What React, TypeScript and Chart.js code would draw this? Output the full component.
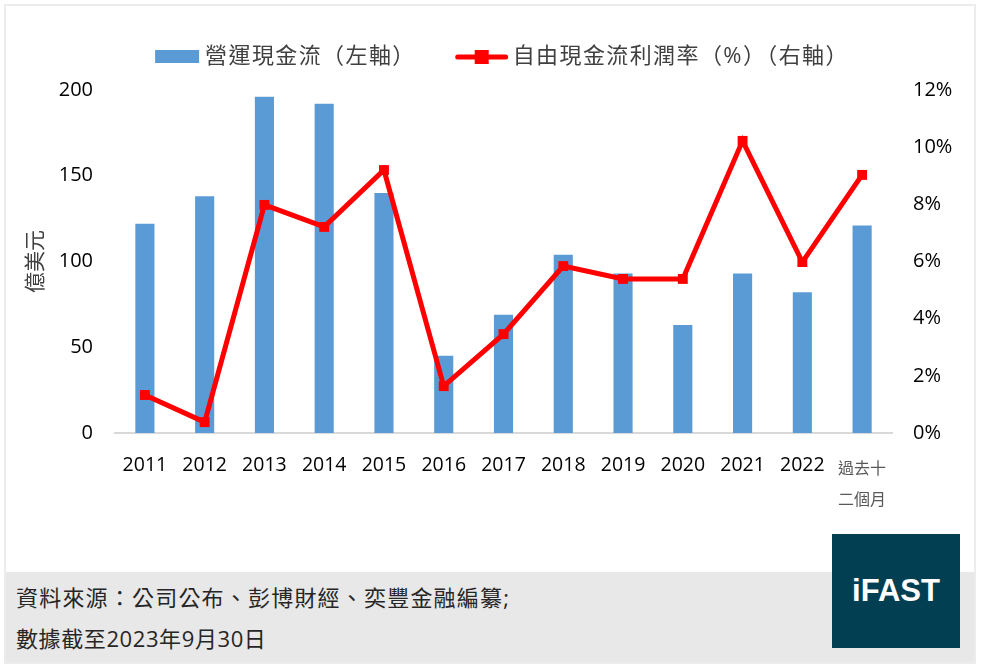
import React, { useEffect, useRef } from "react";
import { Chart, registerables } from "chart.js";

Chart.register(...registerables);

const categories: (string | string[])[] = [
  "2011", "2012", "2013", "2014", "2015", "2016", "2017", "2018", "2019", "2020", "2021", "2022",
  ["過去十", "二個月"],
];
const operatingCashFlow = [122, 138, 196, 192, 140, 45, 69, 104, 93, 63, 93, 82, 121];
const fcfMargin = [1.33, 0.38, 7.98, 7.21, 9.2, 1.64, 3.46, 5.84, 5.39, 5.39, 10.22, 5.98, 9.03];
const leftTicks = [0, 50, 100, 150, 200];
const rightTicks = [0, 2, 4, 6, 8, 10, 12];

const barLabel = "營運現金流（左軸）";
const lineLabel = "自由現金流利潤率（%）（右軸）";
const yTitle = "億美元";

const BAR_COLOR = "#5b9bd5";
const LINE_COLOR = "#ff0000";
const FONT = "'Open Sans', 'Noto Sans CJK TC', sans-serif";

const legendPlugin = {
  id: "customLegend",
  afterDraw(chart: any) {
    const ctx = chart.ctx;
    ctx.save();
    ctx.font = `22px ${FONT}`;
    try {
      (ctx as any).letterSpacing = "1.4px";
    } catch (e) {}
    ctx.textBaseline = "middle";
    ctx.fillStyle = "#404040";
    const w1 = ctx.measureText(barLabel).width;
    const w2 = ctx.measureText(lineLabel).width;
    const total = 44 + 6 + w1 + 45 + 48 + 5 + w2;
    let x = chart.width / 2 + 13 - total / 2;
    const y = 51;
    ctx.fillStyle = BAR_COLOR;
    ctx.fillRect(x, y - 7, 44, 13);
    x += 50;
    ctx.fillStyle = "#404040";
    ctx.fillText(barLabel, x, y);
    x += w1 + 42;
    ctx.strokeStyle = LINE_COLOR;
    ctx.lineWidth = 5;
    ctx.lineCap = "round";
    ctx.beginPath();
    ctx.moveTo(x, y);
    ctx.lineTo(x + 48, y);
    ctx.stroke();
    ctx.fillStyle = LINE_COLOR;
    ctx.fillRect(x + 24 - 7, y - 7, 14, 14);
    x += 55;
    ctx.fillStyle = "#404040";
    ctx.fillText(lineLabel, x, y);
    ctx.restore();
  },
};

function ChartBox() {
  const ref = useRef<HTMLCanvasElement | null>(null);
  useEffect(() => {
    if (!ref.current) return;
    const chart = new Chart(ref.current, {
      data: {
        labels: categories,
        datasets: [
          {
            type: "line" as const,
            label: lineLabel,
            data: fcfMargin,
            yAxisID: "y1",
            borderColor: LINE_COLOR,
            backgroundColor: LINE_COLOR,
            borderWidth: 5,
            pointStyle: "rect",
            pointRadius: 7,
            pointBorderWidth: 0,
            tension: 0,
            order: 0,
          },
          {
            type: "bar" as const,
            label: barLabel,
            data: operatingCashFlow,
            yAxisID: "y",
            backgroundColor: BAR_COLOR,
            categoryPercentage: 1,
            barPercentage: 0.32,
            order: 1,
          },
        ],
      },
      options: {
        animation: false,
        responsive: false,
        maintainAspectRatio: false,
        layout: { padding: { top: 84, left: 0, right: 0, bottom: 0 } },
        plugins: {
          legend: { display: false },
          tooltip: { enabled: false },
        },
        scales: {
          x: {
            grid: { display: false, drawTicks: false },
            border: { display: true, color: "#d9d9d9", width: 2 },
            ticks: {
              padding: 21,
              maxRotation: 0,
              autoSkip: false,
              color: (c: any) => (c.index === 12 ? "#595959" : "#000000"),
              font: (c: any) =>
                c.index === 12
                  ? { family: FONT, size: 16, lineHeight: 1.95 }
                  : { family: FONT, size: 19.5, lineHeight: 1.2 },
            },
            afterFit: (s: any) => {
              s.height = 139;
            },
          },
          y: {
            position: "left",
            min: 0,
            max: 200,
            grid: { display: false, drawTicks: false },
            border: { display: false },
            afterBuildTicks: (s: any) => {
              s.ticks = leftTicks.map((v) => ({ value: v }));
            },
            ticks: {
              padding: 22,
              color: "#000000",
              font: { family: FONT, size: 20 },
            },
            title: {
              display: true,
              text: yTitle,
              color: "#404040",
              font: { family: FONT, size: 21 },
              padding: { top: 18, bottom: 0 },
            },
            afterFit: (s: any) => {
              s.width = 110;
            },
          },
          y1: {
            position: "right",
            min: 0,
            max: 12,
            grid: { display: false, drawTicks: false },
            border: { display: false },
            afterBuildTicks: (s: any) => {
              s.ticks = rightTicks.map((v) => ({ value: v }));
            },
            ticks: {
              padding: 21,
              color: "#000000",
              font: { family: FONT, size: 20 },
              callback: (v: any) => `${v}%`,
            },
            afterFit: (s: any) => {
              s.width = 82;
            },
          },
        },
      } as any,
      plugins: [legendPlugin],
    });
    return () => chart.destroy();
  }, []);
  return (
    <canvas
      ref={ref}
      width={969}
      height={566}
      style={{ position: "absolute", left: 5, top: 6, width: 969, height: 566 }}
    />
  );
}

export default function App() {
  useEffect(() => {
    document.body.style.margin = "0";
  }, []);
  return (
    <div
      style={{
        position: "relative",
        width: 986,
        height: 667,
        background: "#ffffff",
        overflow: "hidden",
        fontFamily: FONT,
      }}
    >
      <div
        style={{
          position: "absolute",
          left: 4,
          top: 4,
          width: 968,
          height: 656,
          border: "2px solid #ececec",
          background: "#ffffff",
        }}
      />
      <ChartBox />
      <div
        style={{
          position: "absolute",
          left: 6,
          top: 572,
          width: 968,
          height: 90,
          background: "#e8e8e8",
        }}
      />
      <div
        style={{
          position: "absolute",
          left: 16,
          top: 583,
          fontSize: 22,
          letterSpacing: "1.2px",
          color: "#262626",
          lineHeight: "28px",
          whiteSpace: "nowrap",
        }}
      >
        資料來源：公司公布、彭博財經、奕豐金融編纂;
      </div>
      <div
        style={{
          position: "absolute",
          left: 16,
          top: 624,
          fontSize: 22,
          letterSpacing: "0.6px",
          color: "#262626",
          lineHeight: "28px",
          whiteSpace: "nowrap",
        }}
      >
        數據截至2023年9月30日
      </div>
      <div
        style={{
          position: "absolute",
          left: 832,
          top: 534,
          width: 128,
          height: 114,
          background: "#033f52",
          color: "#ffffff",
          display: "flex",
          alignItems: "center",
          justifyContent: "center",
          fontFamily: "'Liberation Sans', Arial, sans-serif",
          fontWeight: 700,
          fontSize: 31,
        }}
      >
        iFAST
      </div>
    </div>
  );
}
